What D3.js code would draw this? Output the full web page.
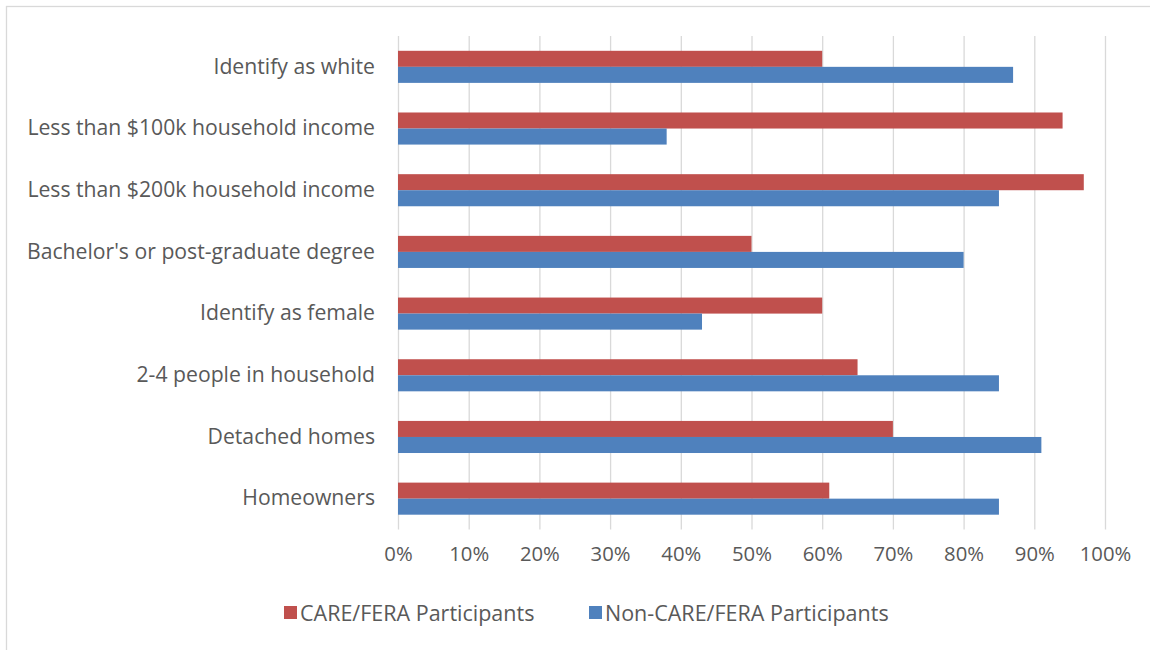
<!DOCTYPE html>
<html>
<head>
<meta charset="utf-8">
<script src="https://cdn.jsdelivr.net/npm/d3@7"></script>
<style>
  html, body { margin: 0; padding: 0; background: #fff; }
  svg { display: block; }
  text { font-family: "Open Sans", "Noto Sans", sans-serif; fill: #595959; }
</style>
</head>
<body>
<svg id="chart" width="1150" height="650"></svg>
<script>
const categories = [
  "Identify as white",
  "Less than $100k household income",
  "Less than $200k household income",
  "Bachelor's or post-graduate degree",
  "Identify as female",
  "2-4 people in household",
  "Detached homes",
  "Homeowners"
];
const seriesNames = ["CARE/FERA Participants", "Non-CARE/FERA Participants"];
const careValues = [60, 94, 97, 50, 60, 65, 70, 61];
const nonCareValues = [87, 38, 85, 80, 43, 85, 91, 85];
const tickValues = [0, 10, 20, 30, 40, 50, 60, 70, 80, 90, 100];
const colors = ["#C0504D", "#4F81BD"];

const svg = d3.select("#chart");

// chart border (extends past right/bottom edges)
svg.append("rect")
  .attr("x", 6.5).attr("y", 6.5)
  .attr("width", 1160).attr("height", 660)
  .attr("fill", "#fff").attr("stroke", "#D9D9D9").attr("stroke-width", 1.3);

const plot = { left: 398, right: 1105, top: 36, bottom: 529.5 };

const x = d3.scaleLinear().domain([0, 100]).range([plot.left, plot.right]);
const y = d3.scaleBand().domain(categories).range([plot.top, plot.bottom])
  .paddingInner(0.48).paddingOuter(0.24);
const ySub = d3.scaleBand().domain(seriesNames).range([0, y.bandwidth()]);

// gridlines
svg.append("g").selectAll("line").data(tickValues).join("line")
  .attr("x1", d => x(d) + 0.5).attr("x2", d => x(d) + 0.5)
  .attr("y1", plot.top).attr("y2", plot.bottom)
  .attr("stroke", "#D9D9D9").attr("stroke-width", 1.3);

// bars
const rows = categories.map((c, i) => ({ cat: c, vals: [careValues[i], nonCareValues[i]] }));
const g = svg.append("g");
rows.forEach(r => {
  r.vals.forEach((v, si) => {
    g.append("rect")
      .attr("x", x(0))
      .attr("y", y(r.cat) + ySub(seriesNames[si]))
      .attr("width", x(v) - x(0))
      .attr("height", ySub.bandwidth())
      .attr("fill", colors[si]);
  });
});

// x axis tick labels
const xAxis = d3.axisBottom(x).tickValues(tickValues).tickFormat(d => d + "%").tickSize(0).tickPadding(0);
const xg = svg.append("g").attr("transform", `translate(0, ${plot.bottom + 17})`).call(xAxis);
xg.select(".domain").remove();
xg.selectAll("text").attr("font-size", 20.3).attr("fill", "#595959")
  .style("font-family", "'Open Sans', sans-serif");

// y axis category labels
const yAxis = d3.axisLeft(y).tickSize(0).tickPadding(0);
const yg = svg.append("g").attr("transform", `translate(375, 0)`).call(yAxis);
yg.select(".domain").remove();
yg.selectAll("text").attr("font-size", 21.2).attr("fill", "#595959")
  .style("font-family", "'Open Sans', sans-serif");

// legend
const legendItems = [
  { name: seriesNames[0], color: colors[0], x: 284 },
  { name: seriesNames[1], color: colors[1], x: 589 }
];
const lg = svg.append("g");
legendItems.forEach(it => {
  lg.append("rect").attr("x", it.x).attr("y", 606).attr("width", 13).attr("height", 13).attr("fill", it.color);
  lg.append("text").attr("x", it.x + 16).attr("y", 613).attr("dy", "0.35em")
    .attr("font-size", 21.5).text(it.name);
});
</script>
</body>
</html>
